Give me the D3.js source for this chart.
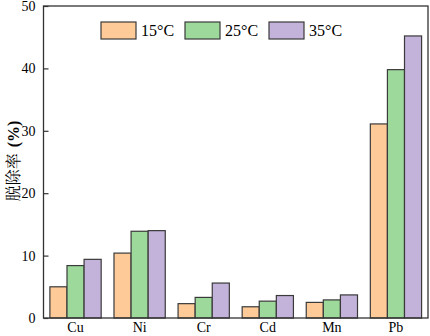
<!DOCTYPE html>
<html>
<head>
<meta charset="utf-8">
<script src="https://cdn.jsdelivr.net/npm/d3@7"></script>
<style>
  body { margin: 0; background: #fff; }
  svg text { font-family: "Liberation Serif", "Times New Roman", serif; fill: #000; }
</style>
</head>
<body>
<svg id="chart" width="430" height="336"></svg>
<script>
const metals = ["Cu", "Ni", "Cr", "Cd", "Mn", "Pb"];
const temps = ["15°C", "25°C", "35°C"];
const t15 = [5.0, 10.4, 2.3, 1.8, 2.5, 31.1];
const t25 = [8.4, 13.9, 3.3, 2.7, 2.9, 39.8];
const t35 = [9.4, 14.0, 5.6, 3.6, 3.7, 45.2];
const yTicks = [0, 10, 20, 30, 40, 50];
const colors = ["#fdca98", "#9ed99c", "#c3b2d9"];

const series = [t15, t25, t35];
const data = metals.map((m, i) => ({metal: m, values: series.map(s => s[i])}));

const svg = d3.select("#chart");
const margin = {left: 43.5, right: 2, top: 6, bottom: 18};
const width = 430, height = 336;

const x = d3.scaleBand()
    .domain(metals)
    .range([margin.left, width - margin.right])
    .paddingInner(0.2)
    .paddingOuter(0.1);

const xSub = d3.scaleBand()
    .domain(d3.range(temps.length))
    .range([0, x.bandwidth()]);

const y = d3.scaleLinear()
    .domain([0, 50])
    .range([height - margin.bottom, margin.top]);

// bars
svg.append("g")
    .selectAll("g")
    .data(data)
    .enter().append("g")
    .attr("transform", d => `translate(${x(d.metal)},0)`)
    .selectAll("rect")
    .data(d => d.values)
    .enter().append("rect")
    .attr("x", (d, i) => xSub(i))
    .attr("y", d => y(d))
    .attr("width", xSub.bandwidth())
    .attr("height", d => y(0) - y(d))
    .attr("fill", (d, i) => colors[i])
    .attr("stroke", "#3a3a3a")
    .attr("stroke-width", 1.2);

// frame
svg.append("rect")
    .attr("x", margin.left)
    .attr("y", margin.top)
    .attr("width", width - margin.right - margin.left)
    .attr("height", y(0) - margin.top)
    .attr("fill", "none")
    .attr("stroke", "#333")
    .attr("stroke-width", 1.3);

// y axis
const yAxis = svg.append("g")
    .attr("transform", `translate(${margin.left},0)`)
    .call(d3.axisLeft(y).tickValues(yTicks).tickSizeInner(-5).tickSizeOuter(0).tickPadding(8));
yAxis.select(".domain").remove();
yAxis.selectAll("line").attr("stroke", "#333").attr("stroke-width", 1.2);
yAxis.selectAll("text").attr("font-size", 14);

// x axis labels
const xAxis = svg.append("g")
    .attr("transform", `translate(0,${y(0)})`)
    .call(d3.axisBottom(x).tickSize(0).tickPadding(4));
xAxis.select(".domain").remove();
xAxis.selectAll("text").attr("font-size", 14);

// y label
const ylab = svg.append("text")
    .attr("transform", "translate(19,161) rotate(-90)")
    .attr("text-anchor", "middle")
    .attr("font-size", 16);
ylab.append("tspan")
    .style("font-family", "'Noto Serif CJK SC', 'Noto Sans CJK SC', serif")
    .text("脱除率");
ylab.append("tspan")
    .attr("dx", 6)
    .attr("font-weight", "bold")
    .text("(%)");

// legend
const legend = svg.append("g").attr("transform", "translate(101,22)");
const item = legend.selectAll("g")
    .data(temps)
    .enter().append("g")
    .attr("transform", (d, i) => `translate(${i * 84},0)`);
item.append("rect")
    .attr("width", 35)
    .attr("height", 17)
    .attr("fill", (d, i) => colors[i])
    .attr("stroke", "#3a3a3a")
    .attr("stroke-width", 1.2);
item.append("text")
    .attr("x", 40)
    .attr("y", 14)
    .attr("font-size", 16)
    .text(d => d);
</script>
</body>
</html>
